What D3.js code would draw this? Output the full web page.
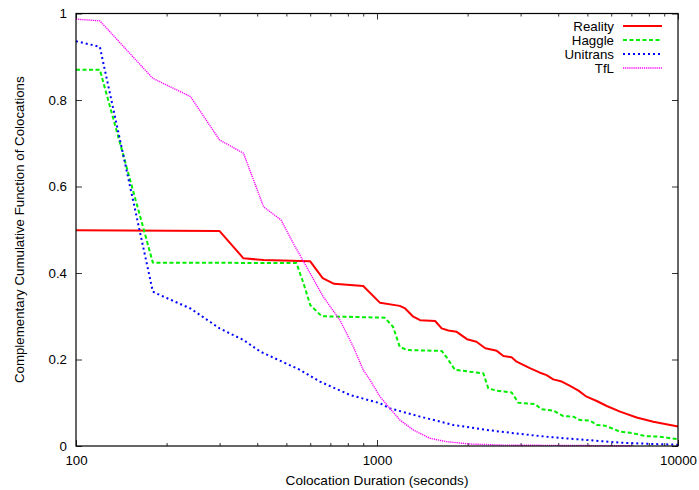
<!DOCTYPE html>
<html>
<head>
<meta charset="utf-8">
<script src="https://cdn.jsdelivr.net/npm/d3@7"></script>
<style>
  html, body { margin: 0; padding: 0; background: #fff; }
  svg { display: block; font-family: "Liberation Sans", Arial, Helvetica, sans-serif; }
</style>
</head>
<body>
<svg id="chart" width="699" height="490"></svg>
<script>
// Colocation duration (seconds) vs. complementary cumulative fraction
const reality = [[100,0.499],[300,0.497],[360,0.434],[420,0.430],[600,0.427],[660,0.388],[720,0.375],[900,0.370],[1024,0.331],[1190,0.324],[1240,0.318],[1320,0.299],[1390,0.291],[1560,0.289],[1640,0.272],[1726,0.267],[1840,0.264],[1990,0.247],[2140,0.241],[2290,0.226],[2500,0.220],[2630,0.208],[2800,0.205],[2910,0.195],[3220,0.180],[3480,0.1695],[3660,0.164],[3850,0.154],[4110,0.149],[4380,0.139],[4670,0.128],[4970,0.114],[5370,0.104],[5800,0.0925],[6420,0.0794],[7290,0.066],[8280,0.056],[10000,0.045]];
const haggle = [[100,0.87],[120,0.87],[180,0.424],[540,0.423],[570,0.376],[600,0.326],[655,0.300],[1060,0.2967],[1130,0.276],[1190,0.2296],[1255,0.222],[1640,0.2197],[1704,0.205],[1816,0.176],[2256,0.168],[2344,0.133],[2500,0.128],[2800,0.124],[2950,0.100],[3350,0.097],[3520,0.085],[3850,0.082],[4160,0.069],[4490,0.0678],[4725,0.060],[5110,0.0585],[5370,0.0486],[5720,0.047],[6020,0.041],[6420,0.033],[7110,0.0295],[7770,0.023],[8710,0.0215],[10000,0.0155]];
const unitrans = [[100,0.936],[120,0.923],[180,0.357],[190,0.349],[240,0.318],[300,0.272],[360,0.245],[410,0.218],[555,0.176],[646,0.149],[813,0.118],[1024,0.0987],[1104,0.087],[1390,0.068],[1793,0.0486],[2314,0.037],[3223,0.0254],[3853,0.020],[4973,0.0139],[6418,0.0077],[8279,0.0046],[10000,0.003]];
const tfl = [[100,0.987],[120,0.983],[180,0.850],[240,0.808],[300,0.7075],[360,0.677],[420,0.553],[480,0.5225],[527,0.4687],[600,0.399],[663,0.345],[753,0.291],[834,0.2296],[900,0.1757],[948,0.1526],[1024,0.114],[1104,0.087],[1192,0.060],[1320,0.037],[1500,0.0178],[1704,0.010],[2038,0.0046],[2628,0.002],[7000,0.0005]];

const seriesNames = ["Reality", "Haggle", "Unitrans", "TfL"];
const xMajorTicks = [100, 1000, 10000];
const xMajorLabels = ["100", "1000", "10000"];
const xMinorTicks = [200,300,400,500,600,700,800,900,2000,3000,4000,5000,6000,7000,8000,9000];
const yTicks = [0, 0.2, 0.4, 0.6, 0.8, 1];
const yTickLabels = ["0", "0.2", "0.4", "0.6", "0.8", "1"];
const xTitle = "Colocation Duration (seconds)";
const yTitle = "Complementary Cumulative Function of Colocations";

const svg = d3.select("#chart");
const L = 76, R = 678, T = 13.5, B = 446;
const FS = 13.3;

const x = d3.scaleLog().domain([100, 10000]).range([L, R]);
const y = d3.scaleLinear().domain([0, 1]).range([B, T]);

const styles = [
  { color: "#ff0000", width: 2, dash: null },
  { color: "#00ee00", width: 2, dash: "4,2.5" },
  { color: "#0000ff", width: 2, dash: "2,3" },
  { color: "#ff00ff", width: 1.4, dash: "1.2,0.9" }
];
const allSeries = [reality, haggle, unitrans, tfl];

// axes: ticks drawn inward on all four sides
function styleAxis(g) {
  g.select(".domain").remove();
  g.selectAll(".tick line").attr("stroke", "#333").attr("stroke-width", 1);
  g.selectAll("text").attr("fill", "#000").attr("font-size", FS).attr("font-family", null);
}
const fmtX = d => xMajorLabels[xMajorTicks.indexOf(d)];
const fmtY = d => yTickLabels[yTicks.indexOf(d)];

svg.append("g").attr("transform", `translate(0,${B})`)
  .call(d3.axisBottom(x).tickValues(xMajorTicks).tickFormat(fmtX).tickSize(-6).tickPadding(10))
  .call(styleAxis);
svg.append("g").attr("transform", `translate(0,${B})`)
  .call(d3.axisBottom(x).tickValues(xMinorTicks).tickFormat("").tickSize(-3))
  .call(styleAxis);
svg.append("g").attr("transform", `translate(0,${T})`)
  .call(d3.axisTop(x).tickValues(xMajorTicks).tickFormat("").tickSize(-6))
  .call(styleAxis);
svg.append("g").attr("transform", `translate(0,${T})`)
  .call(d3.axisTop(x).tickValues(xMinorTicks).tickFormat("").tickSize(-3))
  .call(styleAxis);
svg.append("g").attr("transform", `translate(${L},0)`)
  .call(d3.axisLeft(y).tickValues(yTicks).tickFormat(fmtY).tickSize(-6).tickPadding(9))
  .call(styleAxis);
svg.append("g").attr("transform", `translate(${R},0)`)
  .call(d3.axisRight(y).tickValues(yTicks).tickFormat("").tickSize(-6))
  .call(styleAxis);

// data lines
const line = d3.line().x(d => x(d[0])).y(d => y(d[1]));
allSeries.forEach((s, i) => {
  svg.append("path")
    .datum(s)
    .attr("fill", "none")
    .attr("stroke", styles[i].color)
    .attr("stroke-width", styles[i].width)
    .attr("stroke-dasharray", styles[i].dash)
    .attr("stroke-linejoin", "round")
    .attr("d", line);
});

// plot border
svg.append("rect")
  .attr("x", L).attr("y", T).attr("width", R - L).attr("height", B - T)
  .attr("fill", "none").attr("stroke", "#000").attr("stroke-width", 1.2);

// legend
const legend = svg.append("g");
seriesNames.forEach((name, i) => {
  const ly = 26 + i * 14;
  legend.append("text")
    .attr("x", 614).attr("y", ly).attr("dy", "0.35em")
    .attr("text-anchor", "end").attr("font-size", FS)
    .text(name);
  legend.append("line")
    .attr("x1", 623).attr("x2", 662).attr("y1", ly).attr("y2", ly)
    .attr("stroke", styles[i].color)
    .attr("stroke-width", styles[i].width)
    .attr("stroke-dasharray", styles[i].dash);
});

// axis titles
svg.append("text")
  .attr("x", (L + R) / 2).attr("y", 485)
  .attr("text-anchor", "middle").attr("font-size", 13.6)
  .text(xTitle);
svg.append("text")
  .attr("transform", `translate(24,${(T + B) / 2}) rotate(-90)`)
  .attr("text-anchor", "middle").attr("font-size", 13.3)
  .text(yTitle);
</script>
</body>
</html>
